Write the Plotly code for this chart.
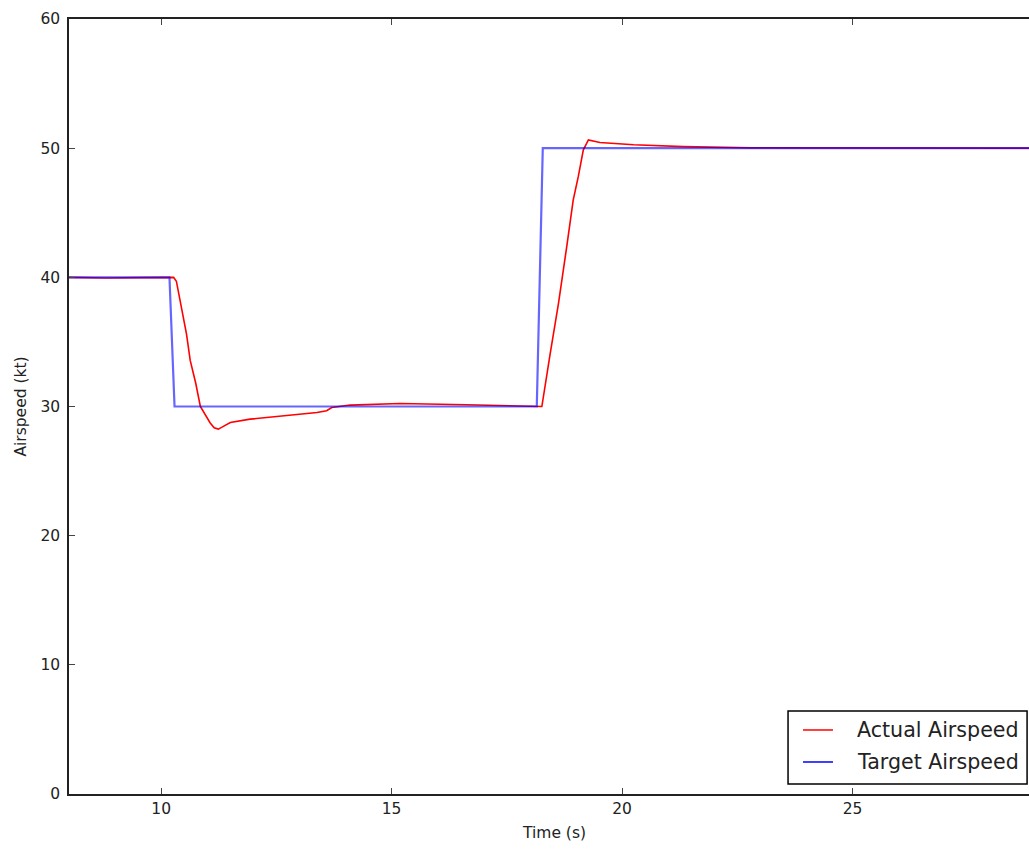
import plotly.graph_objects as go

# Flight log: commanded vs measured airspeed
target_time = [8.0, 10.18, 10.29, 18.15, 18.28, 29.0]
target_speed = [40, 40, 30, 30, 50, 50]

actual_time = [8.0, 8.8, 9.6, 10.27, 10.33, 10.45, 10.55, 10.63, 10.75, 10.85, 10.95,
               11.06, 11.15, 11.24, 11.32, 11.50, 11.93, 12.65, 13.38, 13.59, 13.70,
               14.10, 15.18, 16.63, 18.15, 18.26, 18.44, 18.62, 18.80, 18.94, 19.05,
               19.16, 19.27, 19.52, 20.25, 21.33, 22.8, 29.0]
actual_speed = [40.0, 39.95, 39.98, 40.0, 39.7, 37.46, 35.6, 33.57, 31.8, 30.0, 29.41,
                28.74, 28.35, 28.25, 28.4, 28.76, 29.02, 29.28, 29.53, 29.67, 29.92,
                30.11, 30.23, 30.13, 30.05, 30.0, 34.07, 37.96, 42.38, 45.98, 47.79,
                49.87, 50.64, 50.44, 50.26, 50.12, 50.02, 50.0]

series_names = ["Actual Airspeed", "Target Airspeed"]
series_colors = ["rgb(255,0,0)", "rgba(0,0,255,0.6)"]
legend_colors = ["rgb(255,0,0)", "rgb(0,0,255)"]
series_widths = [1.6, 2.2]

font_family = "DejaVu Sans"
text_color = "#222"

fig = go.Figure()
fig.add_trace(go.Scatter(
    x=actual_time, y=actual_speed, mode="lines", name=series_names[0],
    line=dict(color=series_colors[0], width=series_widths[0]), showlegend=False,
))
fig.add_trace(go.Scatter(
    x=target_time, y=target_speed, mode="lines", name=series_names[1],
    line=dict(color=series_colors[1], width=series_widths[1]), showlegend=False,
))

# Boxed legend in the lower-right corner of the axes
legend_box = dict(x0=0.749, x1=0.998, y0=0.0129, y1=0.1071)
row_y = [0.0826, 0.0413]
fig.add_shape(type="rect", xref="paper", yref="paper", **legend_box,
              line=dict(color="black", width=1.5), fillcolor="white", layer="above")
for name, color, y in zip(series_names, legend_colors, row_y):
    fig.add_shape(type="line", xref="paper", yref="paper",
                  x0=0.7646, x1=0.7958, y0=y, y1=y,
                  line=dict(color=color, width=1.5), layer="above")
    fig.add_annotation(text=name, xref="paper", yref="paper", x=0.8188, y=y,
                       xanchor="left", yanchor="middle", showarrow=False,
                       font=dict(family=font_family, size=20.6, color=text_color))

# x-axis title
fig.add_annotation(text="Time (s)", xref="paper", yref="paper", x=0.505, y=-0.0503,
                   xanchor="center", yanchor="middle", showarrow=False,
                   font=dict(family=font_family, size=15.5, color=text_color))

fig.update_layout(
    width=1029, height=850,
    margin=dict(l=69, r=0, t=19, b=56),
    paper_bgcolor="white", plot_bgcolor="white",
    font=dict(family=font_family, size=15.5, color=text_color),
    showlegend=False,
)
fig.update_xaxes(
    range=[8, 28.83], showgrid=False, zeroline=False,
    showline=True, linecolor="#222", linewidth=1.5, mirror="ticks",
    ticks="inside", ticklen=6, tickcolor="#444", tickwidth=1,
    tickvals=[10, 15, 20, 25], ticktext=["10", "15", "20", "25"],
)
fig.update_yaxes(
    range=[0, 60], showgrid=False, zeroline=False,
    showline=True, linecolor="#222", linewidth=1.5,
    ticks="inside", ticklen=6, tickcolor="#444", tickwidth=1,
    tickvals=[0, 10, 20, 30, 40, 50, 60],
    ticklabelstandoff=4,
    title=dict(text="Airspeed (kt)", font=dict(size=15.5), standoff=10),
)

fig.write_html("out.html")
